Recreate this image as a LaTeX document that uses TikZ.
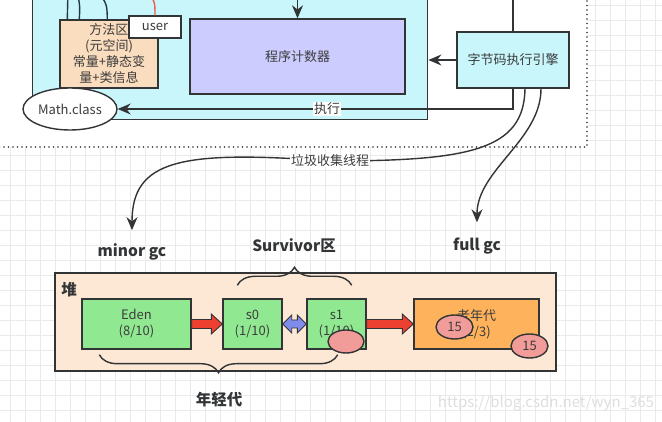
\documentclass[tikz,border=0pt]{standalone}
\usepackage{fontspec}
\setmainfont{Noto Sans CJK SC}
\usetikzlibrary{arrows.meta, calc, shapes.geometric, decorations.pathreplacing}
\definecolor{jvmcyan}{RGB}{200, 246, 251}
\definecolor{jvmpeach}{RGB}{250, 220, 190}
\definecolor{jvmlilac}{RGB}{204, 204, 255}
\definecolor{jvmheap}{RGB}{253, 232, 213}
\definecolor{jvmgreen}{RGB}{144, 232, 144}
\definecolor{jvmorange}{RGB}{255, 178, 92}
\definecolor{jvmsalmon}{RGB}{241, 156, 153}
\definecolor{jvmred}{RGB}{238, 64, 48}
\definecolor{jvmblue}{RGB}{128, 140, 236}
\definecolor{jvmdark}{RGB}{50, 52, 54}
\definecolor{jvmslate}{RGB}{36, 56, 64}
\definecolor{jvmtext}{RGB}{60, 60, 60}
\definecolor{jvmgrid}{RGB}{234, 234, 234}

% fat block arrow between two nodes: style, from, to
\newcommand{\fatarrow}[3]{%
  \path[#1] let \p1 = (#2.east), \p2 = (#3.west) in
    (\x1, \y1+4.5pt) -- (\x2-11pt, \y1+4.5pt) -- (\x2-11pt, \y1+10pt) -- (\x2, \y1)
    -- (\x2-11pt, \y1-10pt) -- (\x2-11pt, \y1-4.5pt) -- (\x1, \y1-4.5pt) -- cycle;}
% two-headed block arrow
\newcommand{\twinarrow}[3]{%
  \path[#1] let \p1 = (#2.east), \p2 = (#3.west) in
    (\x1, \y1) -- (\x1+9pt, \y1+9pt) -- (\x1+9pt, \y1+4pt) -- (\x2-9pt, \y1+4pt)
    -- (\x2-9pt, \y1+9pt) -- (\x2, \y1) -- (\x2-9pt, \y1-9pt) -- (\x2-9pt, \y1-4pt)
    -- (\x1+9pt, \y1-4pt) -- (\x1+9pt, \y1-9pt) -- cycle;}

\begin{document}
\begin{tikzpicture}[x=1pt, y=-1pt,
  box/.style={rectangle, draw=jvmdark, line width=1.4pt, text=jvmtext,
              align=center, inner sep=0pt, font=\fontsize{13}{16}\selectfont},
  oval/.style={ellipse, draw=jvmdark, line width=1.4pt, text=jvmtext,
               inner sep=0pt, font=\fontsize{13}{16}\selectfont},
  tag/.style={font=\bfseries\fontsize{15.5}{17}\selectfont, text=jvmdark},
  lbl/.style={fill=white, inner sep=1pt, text=jvmtext, font=\fontsize{13}{14}\selectfont},
  arr/.style={-{Stealth[length=13pt, width=11pt]}, line width=1.4pt, draw=jvmdark},
  link/.style={line width=1.4pt, draw=jvmslate},
  fat/.style={fill=jvmred, draw=jvmdark, line width=0.9pt},
  twin/.style={fill=jvmblue, draw=jvmdark, line width=0.9pt},
  curl/.style={decorate, decoration={brace, amplitude=18pt}, line width=1.4pt, draw=jvmdark},
  gridline/.style={draw=jvmgrid, line width=0.8pt}
]
  \useasboundingbox (0,0) rectangle (662,422);
  \clip (0,0) rectangle (662,422);

  % background grid, white above the dotted border
  \foreach \gx in {10,25,...,655} \draw[gridline] (\gx,0) -- (\gx,422);
  \foreach \gy in {5,20,...,420} \draw[gridline] (0,\gy) -- (662,\gy);
  \fill[white] (-5,-5) rectangle (587,147);
  \draw[line width=1.8pt, jvmdark, line cap=round, dash pattern=on 0pt off 4.5pt]
    (-5,147) -- (587,147) -- (587,-5);

  % Runtime area (top cut off)
  \node[box, fill=jvmcyan, minimum width=395pt, minimum height=160pt, anchor=south west]
    (rt) at (32,120) {};

  % links coming from above into the method area
  \coordinate (m1) at (68,-10);
  \coordinate (m2) at (77,-10);
  \coordinate (m3) at (97,-10);
  \coordinate (u0) at (143,-10);
  \coordinate (p0) at (297.5,-10);
  \coordinate (e0) at (513,-10);
  \node[box, fill=jvmpeach, minimum width=98pt, minimum height=68pt] (ma) at (109,54)
    {方法区\\(元空间)\\常量+静态变\\量+类信息};
  \draw[link] (m1) -- ([xshift=8pt]ma.north west);
  \draw[link] (m2) .. controls (80,6) .. ([xshift=20pt]ma.north west);
  \draw[link] (m3) .. controls (107,4) .. ([xshift=48pt]ma.north west);
  \node[box, fill=white, minimum width=52pt, minimum height=22pt] (user) at (155,27) {user};
  \draw[line width=1.4pt, draw=jvmred!85] (u0) .. controls (155,0) .. (user.north);

  \node[box, fill=jvmlilac, minimum width=215pt, minimum height=75pt] (pc) at (297.5,56.5) {程序计数器};
  \draw[arr] (p0) -- (pc.north);

  \node[box, fill=jvmcyan, minimum width=112pt, minimum height=56pt] (engine) at (513,60) {字节码执行引擎};
  \draw[link, draw=jvmdark] (e0) -- (engine.north);
  \draw[arr] (engine.west) -- (engine.west -| rt.east);

  \node[oval, fill=white, minimum width=94pt, minimum height=42pt] (math) at (70,109) {Math.class};
  \draw[arr] (engine.south) |- (math.east) node[lbl, pos=0.735] {执行};

  % gc labels
  \node[tag] (minor) at (132,252) {minor gc};
  \node[tag] (surv)  at (294,246) {Survivor区};
  \node[tag] (full)  at (477,246) {full gc};

  % garbage collection thread
  \draw[arr, shorten >=10pt] ([xshift=12pt]engine.south) .. controls (524,150) and (470,161) .. (330,161)
    node[lbl] {垃圾收集线程}
    .. controls (180,150) and (132,160) .. (minor.north);
  \draw[arr, shorten >=12pt] ([xshift=28pt]engine.south) .. controls (541,140) and (477,170) .. (full.north);

  % Heap
  \node[box, fill=jvmheap, minimum width=501pt, minimum height=98pt] (heap) at (305.5,322) {};
  \node[tag] (heaptag) at (69,290) {堆};
  \node[box, fill=jvmgreen, minimum width=109pt, minimum height=50pt] (eden) at (136.5,324) {Eden\\(8/10)};
  \node[box, fill=jvmgreen, minimum width=59pt, minimum height=50pt] (s0) at (252.5,324) {s0\\(1/10)};
  \node[box, fill=jvmgreen, minimum width=59pt, minimum height=50pt] (s1) at (336.5,324) {s1\\(1/10)};
  \node[box, fill=jvmorange, minimum width=125pt, minimum height=50pt] (old) at (476.5,324) {老年代\\(2/3)};

  \fatarrow{fat}{eden}{s0}
  \twinarrow{twin}{s0}{s1}
  \fatarrow{fat}{s1}{old}

  % objects
  \node[oval, fill=jvmsalmon, minimum width=36pt, minimum height=23pt] (obj) at (346,341.5) {};
  \node[oval, fill=jvmsalmon, minimum width=37pt, minimum height=24pt] (age1) at (454.5,327) {15};
  \node[oval, fill=jvmsalmon, minimum width=37pt, minimum height=24pt] (age2) at (529.5,346) {15};

  % braces
  \draw[curl] ([xshift=15pt, yshift=13pt]s0.north west) -- ([xshift=-15pt, yshift=13pt]s1.north east);
  \draw[curl] ([xshift=-29pt, yshift=-5pt]s1.south east) -- ([xshift=18pt, yshift=-5pt]eden.south west);
  \node[tag] (young) at (219,400) {年轻代};

  \node[font=\fontsize{15}{15}\selectfont, text=black!13] (mark) at (546,403) {https://blog.csdn.net/wyn\_365};
\end{tikzpicture}
\end{document}
